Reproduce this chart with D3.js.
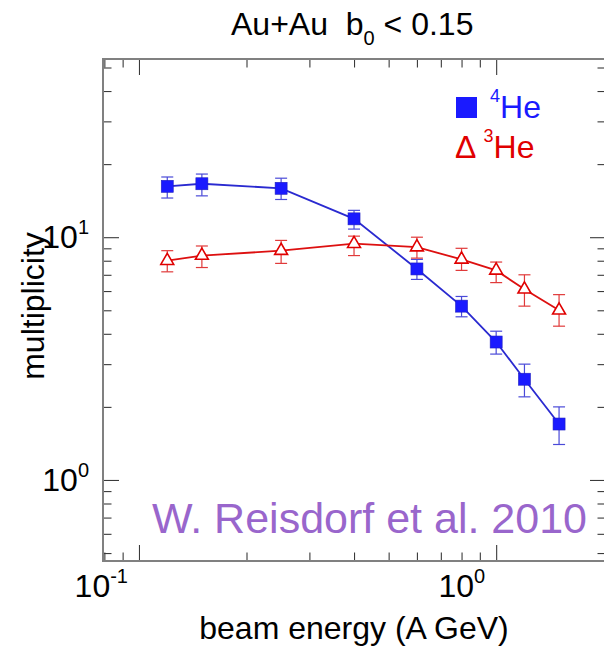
<!DOCTYPE html>
<html>
<head>
<meta charset="utf-8">
<script src="https://cdn.jsdelivr.net/npm/d3@7"></script>
<style>
  body { margin: 0; background: #fff; }
  text { font-family: "Liberation Sans", Arial, sans-serif; }
</style>
</head>
<body>
<div class="chartHolder"></div>
<script>
// data
const energy = [0.12, 0.15, 0.25, 0.4, 0.6, 0.8, 1.0, 1.2, 1.5];
const he4 = [16.2, 16.6, 15.9, 11.9, 7.4, 5.2, 3.7, 2.6, 1.7];
const he4Lo = [14.5, 14.8, 14.3, 10.8, 6.7, 4.7, 3.3, 2.2, 1.4];
const he4Hi = [17.7, 18.2, 17.5, 12.9, 8.1, 5.7, 4.1, 3.0, 2.0];
const he3 = [8.0, 8.4, 8.8, 9.4, 9.1, 8.1, 7.3, 6.1, 5.0];
const he3Lo = [7.2, 7.5, 7.8, 8.4, 8.2, 7.3, 6.5, 5.2, 4.3];
const he3Hi = [8.8, 9.2, 9.7, 10.1, 10.0, 9.0, 7.9, 7.0, 5.8];

// ticks
const xMajor = [0.1, 1];
const xMajorExp = ["-1", "0"];
const xMinor = [0.08, 0.09, 0.2, 0.3, 0.4, 0.5, 0.6, 0.7, 0.8, 0.9];
const yMajor = [1, 10];
const yMajorExp = ["0", "1"];
const yMinor = [0.5, 0.6, 0.7, 0.8, 0.9, 2, 3, 4, 5, 6, 7, 8, 9, 20, 30, 40, 50];

const width = 604;
const height = 648;
const plotL = 103, plotR = 606, plotT = 59, plotB = 561;
const fs = 32;

const blue = "#1a1aff";
const red = "#e00000";

let svg = d3
  .select(".chartHolder")
  .append("svg")
  .attr("width", width)
  .attr("height", height);

svg.append("rect").attr("width", width).attr("height", height).attr("fill", "#fff");

let xScale = d3.scaleLog().domain([0.0793, 2.03]).range([plotL, plotR]);
let yScale = d3.scaleLog().domain([0.4637, 54.2]).range([plotB, plotT]);

/* ticks on all four sides, pointing inward */
function addTicks(axis, tr) {
  let g = svg.append("g").attr("transform", tr).call(axis);
  g.select(".domain").remove();
  g.selectAll(".tick line").attr("stroke", "#3a3a3a").attr("stroke-width", 1.1);
}

[[xMajor, 16], [xMinor, 8.5]].forEach(([vals, len]) => {
  addTicks(d3.axisBottom(xScale).tickValues(vals).tickSize(-len).tickFormat(""),
    "translate(0," + plotB + ")");
  addTicks(d3.axisTop(xScale).tickValues(vals).tickSize(-len).tickFormat(""),
    "translate(0," + plotT + ")");
});
[[yMajor, 16], [yMinor, 8.5]].forEach(([vals, len]) => {
  addTicks(d3.axisLeft(yScale).tickValues(vals).tickSize(-len).tickFormat(""),
    "translate(" + plotL + ",0)");
  addTicks(d3.axisRight(yScale).tickValues(vals).tickSize(-len).tickFormat(""),
    "translate(" + plotR + ",0)");
});

// frame
svg.append("rect")
  .attr("x", plotL).attr("y", plotT)
  .attr("width", plotR - plotL).attr("height", plotB - plotT)
  .attr("fill", "none").attr("stroke", "#808080").attr("stroke-width", 2);

// tick labels 10^n
xMajor.forEach((v, i) => {
  let t = svg.append("text")
    .attr("x", xScale(v) - 11).attr("y", 597)
    .attr("text-anchor", "end").attr("font-size", fs);
  t.append("tspan").text("10");
  t.append("tspan").attr("dy", -14).attr("font-size", 20).text(xMajorExp[i]);
});
yMajor.forEach((v, i) => {
  let t = svg.append("text")
    .attr("x", 89).attr("y", yScale(v) + 11)
    .attr("text-anchor", "end").attr("font-size", fs);
  t.append("tspan").text("10");
  t.append("tspan").attr("dy", -14).attr("font-size", 20).text(yMajorExp[i]);
});

// axis titles
svg.append("text")
  .attr("x", 354).attr("y", 639)
  .attr("text-anchor", "middle").attr("font-size", fs)
  .text("beam energy (A GeV)");

svg.append("text")
  .attr("transform", "translate(44,306) rotate(-90)")
  .attr("text-anchor", "middle").attr("font-size", fs)
  .text("multiplicity");

// title
let title = svg.append("text")
  .attr("x", 231).attr("y", 35)
  .attr("font-size", fs)
  .style("white-space", "pre");
title.append("tspan").text("Au+Au  b");
title.append("tspan").attr("dy", 10).attr("font-size", 20).text("0");
title.append("tspan").attr("dy", -10).text(" < 0.15");

// watermark
svg.append("text")
  .attr("x", 152).attr("y", 533)
  .attr("font-size", 43).attr("fill", "#9966cc")
  .text("W. Reisdorf et al. 2010");

/* series: lines, error bars, markers */
let series = [
  { y: he4, lo: he4Lo, hi: he4Hi, line: "#2a2ad0", bar: "#4a4ad8" },
  { y: he3, lo: he3Lo, hi: he3Hi, line: "#dd1010", bar: "#e03a3a" }
];

let line = d3.line()
  .x((d) => xScale(d[0]))
  .y((d) => yScale(d[1]));

series.forEach((s) => {
  let pts = energy.map((e, i) => [e, s.y[i]]);
  svg.append("path")
    .datum(pts)
    .attr("d", line)
    .attr("fill", "none")
    .attr("stroke", s.line)
    .attr("stroke-width", 1.8);

  let eb = svg.append("g").attr("stroke", s.bar).attr("stroke-width", 1.2);
  energy.forEach((e, i) => {
    let cx = xScale(e);
    eb.append("line").attr("x1", cx).attr("x2", cx)
      .attr("y1", yScale(s.lo[i])).attr("y2", yScale(s.hi[i]));
    eb.append("line").attr("x1", cx - 6).attr("x2", cx + 6)
      .attr("y1", yScale(s.lo[i])).attr("y2", yScale(s.lo[i]));
    eb.append("line").attr("x1", cx - 6).attr("x2", cx + 6)
      .attr("y1", yScale(s.hi[i])).attr("y2", yScale(s.hi[i]));
  });
});

// 4He filled squares
svg.selectAll("rect.he4")
  .data(energy)
  .enter()
  .append("rect")
  .attr("class", "he4")
  .attr("x", (d) => xScale(d) - 6)
  .attr("y", (d, i) => yScale(he4[i]) - 6)
  .attr("width", 12)
  .attr("height", 12)
  .attr("fill", blue)
  .attr("stroke", "#2020c0")
  .attr("stroke-width", 0.6);

// 3He open triangles
let tri = d3.symbol().type(d3.symbolTriangle).size(72);
svg.selectAll("path.he3")
  .data(energy)
  .enter()
  .append("path")
  .attr("class", "he3")
  .attr("d", tri)
  .attr("transform", (d, i) => "translate(" + xScale(d) + "," + yScale(he3[i]) + ")")
  .attr("fill", "#fff")
  .attr("stroke", red)
  .attr("stroke-width", 1.6);

// legend
svg.append("rect")
  .attr("x", 456).attr("y", 97)
  .attr("width", 21).attr("height", 21)
  .attr("fill", blue);
let l1 = svg.append("text").attr("x", 490).attr("y", 118).attr("font-size", fs).attr("fill", blue);
l1.append("tspan").attr("dy", -16).attr("font-size", 18).text("4");
l1.append("tspan").attr("dy", 16).text("He");

let l2 = svg.append("text").attr("x", 455).attr("y", 158).attr("font-size", fs).attr("fill", red)
  .style("white-space", "pre");
l2.append("tspan").text("\u0394 ");
l2.append("tspan").attr("dy", -16).attr("font-size", 18).text("3");
l2.append("tspan").attr("dy", 16).text("He");
</script>
</body>
</html>
